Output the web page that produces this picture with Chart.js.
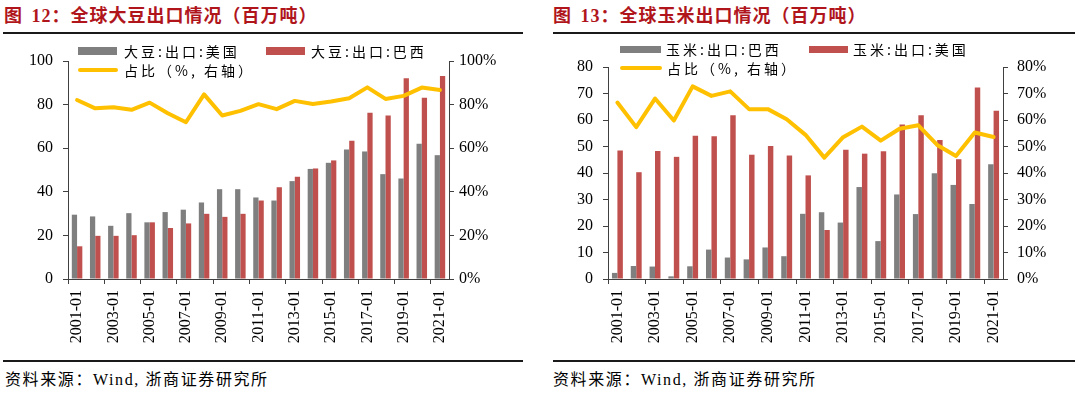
<!DOCTYPE html>
<html>
<head>
<meta charset="utf-8">
<script src="https://cdn.jsdelivr.net/npm/chart.js@4/dist/chart.umd.min.js"></script>
<style>
    body { margin: 0; background: #fff; }
    #page { position: relative; width: 1080px; height: 393px; overflow: hidden; font-family: 'Liberation Serif', 'Noto Sans CJK SC', serif; }
    .title { position: absolute; top: 4px; font-size: 18px; font-weight: bold; color: #B0151C; line-height: 24px; letter-spacing: 1px; word-spacing: 3px; font-family: 'Liberation Serif', 'Noto Sans CJK SC', serif; white-space: nowrap; }
    .rule { position: absolute; height: 2px; background: #1a1a1a; }
    .source { position: absolute; top: 369px; font-size: 16px; line-height: 22px; letter-spacing: 1.6px; color: #000; white-space: nowrap; font-family: 'Liberation Serif', 'Noto Sans CJK SC', serif; }
    canvas { position: absolute; top: 36px; }
    .lg { position: absolute; font-size: 14px; line-height: 18px; letter-spacing: 3px; color: #000; white-space: nowrap; font-family: 'Noto Sans CJK SC', sans-serif; }
    .sw { position: absolute; }
</style>
</head>
<body>
<div id="page">
    <div class="title" style="left:4px;">图 12：全球大豆出口情况（百万吨）</div>
    <div class="rule" style="left:3px; top:32px; width:520px;"></div>
    <div class="title" style="left:553px;">图 13：全球玉米出口情况（百万吨）</div>
    <div class="rule" style="left:553px; top:32px; width:522px;"></div>

    <canvas id="soyChart" width="540" height="322" style="left:0;"></canvas>
    <canvas id="cornChart" width="540" height="322" style="left:540px;"></canvas>

    <div class="sw" style="left:78px; top:47px; width:39px; height:8px; background:#7F7F7F;"></div>
    <div class="lg" style="left:124px; top:42px;">大豆:出口:美国</div>
    <div class="sw" style="left:266px; top:47px; width:39px; height:8px; background:#C0504D;"></div>
    <div class="lg" style="left:311px; top:42px;">大豆:出口:巴西</div>
    <div class="sw" style="left:78px; top:68px; width:40px; height:4px; border-radius:2px; background:#FFC000;"></div>
    <div class="lg" style="left:124px; top:61px;">占比（%, 右轴）</div>

    <div class="sw" style="left:620px; top:46px; width:41px; height:7px; background:#7F7F7F;"></div>
    <div class="lg" style="left:666px; top:40px;">玉米:出口:巴西</div>
    <div class="sw" style="left:809px; top:46px; width:39px; height:7px; background:#C0504D;"></div>
    <div class="lg" style="left:853px; top:40px;">玉米:出口:美国</div>
    <div class="sw" style="left:620px; top:66px; width:42px; height:4px; border-radius:2px; background:#FFC000;"></div>
    <div class="lg" style="left:667px; top:59px;">占比（%, 右轴）</div>

    <div class="rule" style="left:3px; top:360px; width:520px;"></div>
    <div class="source" style="left:5px;">资料来源：Wind, 浙商证券研究所</div>
    <div class="rule" style="left:553px; top:360px; width:522px;"></div>
    <div class="source" style="left:553px;">资料来源：Wind, 浙商证券研究所</div>
</div>

<script>
    const years = ['2001-01', '2002-01', '2003-01', '2004-01', '2005-01', '2006-01', '2007-01',
        '2008-01', '2009-01', '2010-01', '2011-01', '2012-01', '2013-01', '2014-01',
        '2015-01', '2016-01', '2017-01', '2018-01', '2019-01', '2020-01', '2021-01'];

    // soybean exports, million tonnes
    const soyUS = [29.5, 28.7, 24.4, 30.2, 26.0, 30.7, 31.8, 35.1, 41.2, 41.2, 37.4,
        36.0, 44.9, 50.5, 53.3, 59.4, 58.5, 48.1, 46.1, 62.0, 56.8];
    const soyBrazil = [15.0, 19.8, 19.8, 20.1, 26.0, 23.4, 25.5, 29.9, 28.5, 29.9, 36.0,
        42.1, 46.9, 50.7, 54.4, 63.4, 76.3, 75.0, 92.1, 83.1, 93.1];
    const soyShare = [82.1, 78.3, 78.8, 77.6, 80.9, 76.0, 71.9, 84.7, 75.0, 77.1, 80.2,
        77.9, 81.7, 80.3, 81.4, 82.9, 87.9, 82.6, 84.0, 87.8, 86.7];

    // corn exports, million tonnes
    const cornBrazil = [2.3, 4.9, 4.7, 1.0, 4.8, 11.1, 8.1, 7.4, 11.9, 8.6, 24.6,
        25.2, 21.3, 34.7, 14.3, 31.9, 24.5, 39.9, 35.5, 28.3, 43.3];
    const cornUS = [48.5, 40.3, 48.3, 46.1, 54.1, 53.9, 61.8, 46.9, 50.2, 46.6, 39.1,
        18.5, 48.8, 47.3, 48.2, 58.3, 61.8, 52.5, 45.2, 72.3, 63.5];
    const cornShare = [66.6, 57.3, 68.1, 59.8, 72.7, 69.1, 70.8, 64.1, 64.1, 60.3, 54.4,
        45.8, 53.5, 57.5, 52.2, 56.7, 58.0, 50.6, 46.4, 55.3, 53.6];

    const GRAY = '#7F7F7F';
    const RED = '#C0504D';
    const YELLOW = '#FFC000';
    const AXIS = '#404040';
    const tickFont = { family: "'Liberation Serif', 'Times New Roman', serif", size: 16 };

    /**
     * Build the options for one of the two panels
     *
     * @param {object} cfg Axis limits and box sizes
     */
    const buildOptions = (cfg) => {
        return {
            responsive: false,
            animation: false,
            events: [],
            layout: { padding: { top: cfg.padTop, left: 0, right: 0, bottom: 0 } },
            plugins: { legend: { display: false }, tooltip: { enabled: false } },
            scales: {
                x: {
                    offset: true,
                    grid: {
                        offset: true,
                        drawOnChartArea: false,
                        tickLength: 5,
                        color: (ctx) => (ctx.index % 2 === 0 ? AXIS : 'rgba(0,0,0,0)')
                    },
                    border: { display: true, color: AXIS, width: 1 },
                    ticks: {
                        autoSkip: false,
                        minRotation: 90,
                        maxRotation: 90,
                        padding: 6,
                        color: '#000',
                        font: tickFont,
                        callback: function (value, index) {
                            return index % 2 === 0 ? this.getLabelForValue(value) : '';
                        }
                    },
                    afterFit: (scale) => { scale.height = cfg.xHeight; }
                },
                y: {
                    position: 'left',
                    min: 0,
                    max: cfg.max,
                    grid: { drawOnChartArea: false, tickLength: 5, color: AXIS },
                    border: { display: true, color: AXIS, width: 1 },
                    ticks: { stepSize: cfg.step, padding: 10, color: '#000', font: tickFont },
                    afterFit: (scale) => { scale.width = cfg.leftWidth; }
                },
                y1: {
                    position: 'right',
                    min: 0,
                    max: cfg.max,
                    grid: { drawOnChartArea: false, tickLength: 5, color: AXIS },
                    border: { display: true, color: AXIS, width: 1 },
                    ticks: {
                        stepSize: cfg.step,
                        padding: cfg.rightPad,
                        color: '#000',
                        font: tickFont,
                        callback: (v) => v + '%'
                    },
                    afterFit: (scale) => { scale.width = cfg.rightWidth; }
                }
            }
        };
    };

    /**
     * Build the three datasets of a panel
     */
    const buildData = (grayValues, redValues, shareValues) => {
        return {
            labels: years,
            datasets: [
                {
                    type: 'bar', data: grayValues, backgroundColor: GRAY, yAxisID: 'y',
                    categoryPercentage: 0.58, barPercentage: 1.0, order: 2
                },
                {
                    type: 'bar', data: redValues, backgroundColor: RED, yAxisID: 'y',
                    categoryPercentage: 0.58, barPercentage: 1.0, order: 2
                },
                {
                    type: 'line', data: shareValues, borderColor: YELLOW, borderWidth: 4,
                    pointRadius: 0, tension: 0, yAxisID: 'y1', order: 1,
                    borderJoinStyle: 'round', borderCapStyle: 'round'
                }
            ]
        };
    };

    new Chart(document.getElementById('soyChart'), {
        type: 'bar',
        data: buildData(soyUS, soyBrazil, soyShare),
        options: buildOptions({ max: 100, step: 20, padTop: 25, xHeight: 79, leftWidth: 68, rightWidth: 91, rightPad: 5 })
    });

    new Chart(document.getElementById('cornChart'), {
        type: 'bar',
        data: buildData(cornBrazil, cornUS, cornShare),
        options: buildOptions({ max: 80, step: 10, padTop: 31, xHeight: 79, leftWidth: 68, rightWidth: 77, rightPad: 9 })
    });
</script>
</body>
</html>
